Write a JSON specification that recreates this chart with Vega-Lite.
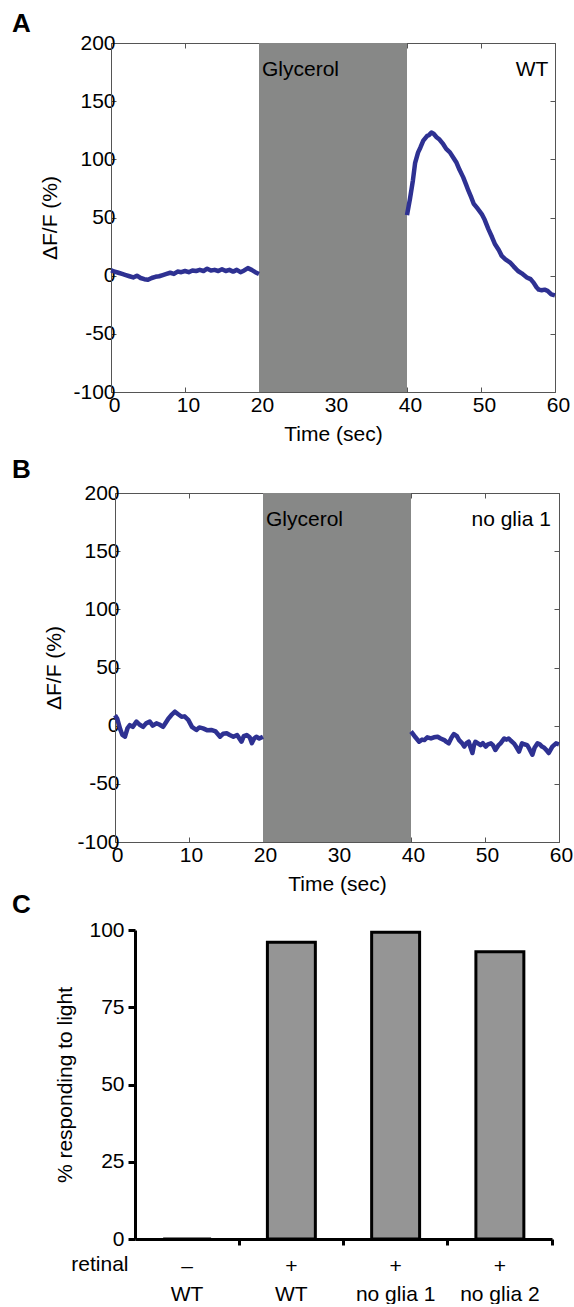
{
  "$schema": "https://vega.github.io/schema/vega-lite/v6.json",
  "padding": {"left": 12, "top": 11, "right": 0, "bottom": 0},
  "background": "white",
  "config": {
    "font": "Liberation Sans",
    "view": {"stroke": null},
    "axis": {"labelFont": "Liberation Sans", "titleFont": "Liberation Sans", "labelFontSize": 21, "titleFontSize": 21, "titleFontWeight": "normal", "labelColor": "black", "titleColor": "black", "grid": false, "domainColor": "#555555", "tickColor": "#555555", "labelFlush": false},
    "title": {"font": "Liberation Sans", "fontSize": 26, "fontWeight": "bold", "anchor": "start", "frame": "group", "baseline": "alphabetic", "color": "black"}
  },
  "datasets": {
    "traceA": [
      {"t": 0, "v": 4.5, "seg": 1}, {"t": 0.5, "v": 3.5, "seg": 1}, {"t": 1, "v": 2.5, "seg": 1}, {"t": 1.5, "v": 1.5, "seg": 1}, {"t": 2, "v": 0.5, "seg": 1}, {"t": 2.5, "v": -0.5, "seg": 1}, {"t": 3, "v": -1.5, "seg": 1}, {"t": 3.5, "v": 0, "seg": 1}, {"t": 4, "v": -2, "seg": 1}, {"t": 4.5, "v": -3, "seg": 1}, {"t": 5, "v": -3.5, "seg": 1}, {"t": 5.5, "v": -2, "seg": 1}, {"t": 6, "v": -1, "seg": 1}, {"t": 6.5, "v": -0.5, "seg": 1}, {"t": 7, "v": 0.5, "seg": 1}, {"t": 7.5, "v": 1.5, "seg": 1}, {"t": 8, "v": 2.5, "seg": 1}, {"t": 8.5, "v": 1.5, "seg": 1}, {"t": 9, "v": 3.5, "seg": 1}, {"t": 9.5, "v": 3, "seg": 1}, {"t": 10, "v": 4, "seg": 1}, {"t": 10.5, "v": 3, "seg": 1}, {"t": 11, "v": 4.5, "seg": 1}, {"t": 11.5, "v": 4, "seg": 1}, {"t": 12, "v": 5, "seg": 1}, {"t": 12.5, "v": 4, "seg": 1}, {"t": 13, "v": 6, "seg": 1}, {"t": 13.5, "v": 4.5, "seg": 1}, {"t": 14, "v": 5, "seg": 1}, {"t": 14.5, "v": 4, "seg": 1}, {"t": 15, "v": 5.5, "seg": 1}, {"t": 15.5, "v": 4, "seg": 1}, {"t": 16, "v": 5, "seg": 1}, {"t": 16.5, "v": 3.5, "seg": 1}, {"t": 17, "v": 5, "seg": 1}, {"t": 17.5, "v": 3, "seg": 1}, {"t": 18, "v": 4.5, "seg": 1}, {"t": 18.5, "v": 6.5, "seg": 1}, {"t": 19, "v": 5, "seg": 1}, {"t": 19.5, "v": 3, "seg": 1}, {"t": 20, "v": 1.5, "seg": 1},
      {"t": 40.0, "v": 52, "seg": 2}, {"t": 40.4, "v": 66, "seg": 2}, {"t": 40.8, "v": 82, "seg": 2}, {"t": 41.1, "v": 97, "seg": 2}, {"t": 41.5, "v": 106, "seg": 2}, {"t": 41.8, "v": 110, "seg": 2}, {"t": 42.2, "v": 116, "seg": 2}, {"t": 42.7, "v": 120, "seg": 2}, {"t": 43.0, "v": 121, "seg": 2}, {"t": 43.3, "v": 123, "seg": 2}, {"t": 43.6, "v": 122, "seg": 2}, {"t": 44.0, "v": 119, "seg": 2}, {"t": 44.4, "v": 117, "seg": 2}, {"t": 44.9, "v": 113, "seg": 2}, {"t": 45.3, "v": 109, "seg": 2}, {"t": 45.8, "v": 106, "seg": 2}, {"t": 46.2, "v": 102, "seg": 2}, {"t": 46.7, "v": 97, "seg": 2}, {"t": 47.1, "v": 91, "seg": 2}, {"t": 47.6, "v": 84.5, "seg": 2}, {"t": 48.0, "v": 78, "seg": 2}, {"t": 48.3, "v": 73, "seg": 2}, {"t": 48.7, "v": 67, "seg": 2}, {"t": 49.0, "v": 62, "seg": 2}, {"t": 49.5, "v": 58, "seg": 2}, {"t": 50.1, "v": 53, "seg": 2}, {"t": 50.5, "v": 48, "seg": 2}, {"t": 51.0, "v": 40, "seg": 2}, {"t": 51.5, "v": 33, "seg": 2}, {"t": 51.9, "v": 27, "seg": 2}, {"t": 52.4, "v": 22, "seg": 2}, {"t": 52.8, "v": 17, "seg": 2}, {"t": 53.3, "v": 14, "seg": 2}, {"t": 53.9, "v": 11.5, "seg": 2}, {"t": 54.4, "v": 8, "seg": 2}, {"t": 55.0, "v": 4, "seg": 2}, {"t": 55.5, "v": 2, "seg": 2}, {"t": 56.2, "v": -1.5, "seg": 2}, {"t": 56.7, "v": -3, "seg": 2}, {"t": 57.1, "v": -6, "seg": 2}, {"t": 57.5, "v": -10, "seg": 2}, {"t": 57.8, "v": -12, "seg": 2}, {"t": 58.2, "v": -12.5, "seg": 2}, {"t": 58.6, "v": -12, "seg": 2}, {"t": 59.0, "v": -13, "seg": 2}, {"t": 59.5, "v": -16, "seg": 2}, {"t": 60, "v": -17, "seg": 2}
    ],
    "traceB": [
      {"t": 0, "v": 9, "seg": 1}, {"t": 0.3, "v": 6, "seg": 1}, {"t": 0.7, "v": -3, "seg": 1}, {"t": 1.0, "v": -8, "seg": 1}, {"t": 1.35, "v": -9.5, "seg": 1}, {"t": 1.7, "v": -2, "seg": 1}, {"t": 2.0, "v": 0.5, "seg": 1}, {"t": 2.4, "v": -1, "seg": 1}, {"t": 2.9, "v": 3.5, "seg": 1}, {"t": 3.3, "v": 1, "seg": 1}, {"t": 3.8, "v": -1, "seg": 1}, {"t": 4.2, "v": 2, "seg": 1}, {"t": 4.7, "v": 3.5, "seg": 1}, {"t": 5.1, "v": 0, "seg": 1}, {"t": 5.6, "v": 2, "seg": 1}, {"t": 6.0, "v": 1, "seg": 1}, {"t": 6.5, "v": -1, "seg": 1}, {"t": 6.9, "v": 3, "seg": 1}, {"t": 7.2, "v": 6, "seg": 1}, {"t": 7.6, "v": 9, "seg": 1}, {"t": 8.1, "v": 12, "seg": 1}, {"t": 8.5, "v": 10, "seg": 1}, {"t": 9.0, "v": 7.7, "seg": 1}, {"t": 9.4, "v": 8, "seg": 1}, {"t": 9.9, "v": 5, "seg": 1}, {"t": 10.4, "v": -1, "seg": 1}, {"t": 11.0, "v": -3.7, "seg": 1}, {"t": 11.4, "v": -1.5, "seg": 1}, {"t": 11.9, "v": -2.3, "seg": 1}, {"t": 12.5, "v": -4, "seg": 1}, {"t": 13.0, "v": -3.7, "seg": 1}, {"t": 13.6, "v": -5, "seg": 1}, {"t": 14.2, "v": -9.5, "seg": 1}, {"t": 14.6, "v": -7, "seg": 1}, {"t": 15.1, "v": -6.6, "seg": 1}, {"t": 15.5, "v": -8, "seg": 1}, {"t": 16.0, "v": -9.5, "seg": 1}, {"t": 16.5, "v": -8, "seg": 1}, {"t": 17.1, "v": -13.8, "seg": 1}, {"t": 17.4, "v": -9, "seg": 1}, {"t": 17.8, "v": -8, "seg": 1}, {"t": 18.2, "v": -10, "seg": 1}, {"t": 18.5, "v": -15, "seg": 1}, {"t": 18.8, "v": -11, "seg": 1}, {"t": 19.1, "v": -9.5, "seg": 1}, {"t": 19.5, "v": -11, "seg": 1}, {"t": 20, "v": -9.5, "seg": 1},
      {"t": 40.0, "v": -5, "seg": 2}, {"t": 40.2, "v": -6.6, "seg": 2}, {"t": 40.6, "v": -10, "seg": 2}, {"t": 41.1, "v": -13.8, "seg": 2}, {"t": 41.5, "v": -12, "seg": 2}, {"t": 41.8, "v": -12.4, "seg": 2}, {"t": 42.2, "v": -10, "seg": 2}, {"t": 42.7, "v": -11, "seg": 2}, {"t": 43.1, "v": -10, "seg": 2}, {"t": 43.6, "v": -9.5, "seg": 2}, {"t": 44.0, "v": -11, "seg": 2}, {"t": 44.5, "v": -12.4, "seg": 2}, {"t": 44.8, "v": -14, "seg": 2}, {"t": 45.1, "v": -15.2, "seg": 2}, {"t": 45.5, "v": -10, "seg": 2}, {"t": 45.8, "v": -7.2, "seg": 2}, {"t": 46.2, "v": -9, "seg": 2}, {"t": 46.5, "v": -12.4, "seg": 2}, {"t": 46.9, "v": -15, "seg": 2}, {"t": 47.2, "v": -18, "seg": 2}, {"t": 47.5, "v": -15, "seg": 2}, {"t": 47.8, "v": -13.8, "seg": 2}, {"t": 48.0, "v": -18, "seg": 2}, {"t": 48.3, "v": -23.5, "seg": 2}, {"t": 48.5, "v": -17, "seg": 2}, {"t": 48.7, "v": -13.8, "seg": 2}, {"t": 49.0, "v": -15, "seg": 2}, {"t": 49.4, "v": -16.7, "seg": 2}, {"t": 49.7, "v": -15, "seg": 2}, {"t": 50.1, "v": -18, "seg": 2}, {"t": 50.4, "v": -16, "seg": 2}, {"t": 50.8, "v": -15.2, "seg": 2}, {"t": 51.1, "v": -17, "seg": 2}, {"t": 51.4, "v": -20.9, "seg": 2}, {"t": 51.8, "v": -17, "seg": 2}, {"t": 52.1, "v": -15.2, "seg": 2}, {"t": 52.6, "v": -11, "seg": 2}, {"t": 52.9, "v": -12, "seg": 2}, {"t": 53.2, "v": -11, "seg": 2}, {"t": 53.5, "v": -13, "seg": 2}, {"t": 53.9, "v": -15.2, "seg": 2}, {"t": 54.2, "v": -18, "seg": 2}, {"t": 54.6, "v": -22.3, "seg": 2}, {"t": 55.0, "v": -15.2, "seg": 2}, {"t": 55.3, "v": -16, "seg": 2}, {"t": 55.7, "v": -16.7, "seg": 2}, {"t": 56.0, "v": -20, "seg": 2}, {"t": 56.4, "v": -25, "seg": 2}, {"t": 56.7, "v": -19, "seg": 2}, {"t": 57.1, "v": -15.2, "seg": 2}, {"t": 57.4, "v": -16, "seg": 2}, {"t": 57.7, "v": -18, "seg": 2}, {"t": 58.0, "v": -19, "seg": 2}, {"t": 58.3, "v": -21, "seg": 2}, {"t": 58.6, "v": -23.5, "seg": 2}, {"t": 59.1, "v": -18, "seg": 2}, {"t": 59.6, "v": -15.2, "seg": 2}, {"t": 60, "v": -16, "seg": 2}
    ],
    "glycerol": [{"start": 20, "end": 40, "label": "Glycerol"}],
    "bars": [
      {"group": "WT (no retinal)", "pct": 0},
      {"group": "WT", "pct": 96},
      {"group": "no glia 1", "pct": 99.3},
      {"group": "no glia 2", "pct": 93}
    ]
  },
  "columns": 1,
  "spacing": 13,
  "concat": [
    {
      "title": {"text": "A", "dx": -99, "offset": -5},
      "width": 444,
      "height": 349,
      "layer": [
        {
          "data": {"name": "glycerol"},
          "mark": {"type": "rect", "color": "#878887"},
          "encoding": {
            "x": {"field": "start", "type": "quantitative", "scale": {"domain": [0, 60], "nice": false, "zero": false}, "axis": {"orient": "bottom", "title": "Time (sec)", "values": [0, 10, 20, 30, 40, 50, 60], "tickSize": -5, "labelPadding": 7, "labelOffset": 3, "titlePadding": 8}},
            "x2": {"field": "end"},
            "y": {"datum": -100, "type": "quantitative", "scale": {"domain": [-100, 200], "nice": false}, "axis": {"orient": "right", "labels": false, "title": null, "values": [-100, -50, 0, 50, 100, 150, 200], "tickSize": -5}},
            "y2": {"datum": 200}
          }
        },
        {
          "data": {"name": "traceA"},
          "mark": {"type": "line", "color": "#2e3192", "strokeWidth": 4.5, "strokeJoin": "round"},
          "encoding": {
            "x": {"field": "t", "type": "quantitative", "scale": {"domain": [0, 60], "nice": false, "zero": false}, "axis": {"orient": "top", "labels": false, "title": null, "values": [0, 10, 20, 30, 40, 50, 60], "tickSize": -5}},
            "y": {"field": "v", "type": "quantitative", "scale": {"domain": [-100, 200], "nice": false}, "axis": {"orient": "left", "title": "ΔF/F (%)", "values": [-100, -50, 0, 50, 100, 150, 200], "labelExpr": "'' + datum.value", "tickSize": -5, "labelPadding": 1, "titlePadding": 12}},
            "detail": {"field": "seg"}
          }
        },
        {
          "data": {"name": "glycerol"},
          "mark": {"type": "text", "align": "left", "baseline": "middle", "fontSize": 21, "font": "Liberation Sans", "dx": 3},
          "encoding": {
            "x": {"field": "start", "type": "quantitative", "axis": null},
            "y": {"datum": 177, "type": "quantitative", "axis": null},
            "text": {"field": "label"}
          }
        },
        {
          "data": {"values": [{"name": "WT"}]},
          "mark": {"type": "text", "align": "right", "baseline": "middle", "fontSize": 21, "font": "Liberation Sans"},
          "encoding": {
            "x": {"datum": 59.1, "type": "quantitative", "axis": null},
            "y": {"datum": 177, "type": "quantitative", "axis": null},
            "text": {"field": "name"}
          }
        }
      ],
      "resolve": {"axis": {"x": "independent", "y": "independent"}}
    },
    {
      "columns": 1,
      "spacing": -2,
      "concat": [
        {
          "title": {"text": "B", "dx": -99, "offset": -1},
          "width": 448,
          "height": 349,
          "layer": [
            {
              "data": {"name": "glycerol"},
              "mark": {"type": "rect", "color": "#878887"},
              "encoding": {
                "x": {"field": "start", "type": "quantitative", "scale": {"domain": [0, 60], "nice": false, "zero": false, "range": [4, 448]}, "axis": {"orient": "bottom", "title": "Time (sec)", "values": [0, 10, 20, 30, 40, 50, 60], "tickSize": -5, "labelPadding": 7, "labelOffset": 2, "titlePadding": 8}},
                "x2": {"field": "end"},
                "y": {"datum": -100, "type": "quantitative", "scale": {"domain": [-100, 200], "nice": false}, "axis": {"orient": "right", "labels": false, "title": null, "values": [-100, -50, 0, 50, 100, 150, 200], "tickSize": -5}},
                "y2": {"datum": 200}
              }
            },
            {
              "data": {"name": "traceB"},
              "mark": {"type": "line", "color": "#2e3192", "strokeWidth": 4.5, "strokeJoin": "round"},
              "encoding": {
                "x": {"field": "t", "type": "quantitative", "scale": {"domain": [0, 60], "nice": false, "zero": false, "range": [4, 448]}, "axis": {"orient": "top", "labels": false, "title": null, "values": [0, 10, 20, 30, 40, 50, 60], "tickSize": -5}},
                "y": {"field": "v", "type": "quantitative", "scale": {"domain": [-100, 200], "nice": false}, "axis": {"orient": "left", "offset": -4, "title": "ΔF/F (%)", "values": [-100, -50, 0, 50, 100, 150, 200], "labelExpr": "'' + datum.value", "tickSize": -5, "labelPadding": 1, "titlePadding": 12}},
                "detail": {"field": "seg"}
              }
            },
            {
              "data": {"name": "glycerol"},
              "mark": {"type": "text", "align": "left", "baseline": "middle", "fontSize": 21, "font": "Liberation Sans", "dx": 3},
              "encoding": {
                "x": {"field": "start", "type": "quantitative", "axis": null},
                "y": {"datum": 177, "type": "quantitative", "axis": null},
                "text": {"field": "label"}
              }
            },
            {
              "data": {"values": [{"name": "no glia 1"}]},
              "mark": {"type": "text", "align": "right", "baseline": "middle", "fontSize": 21, "font": "Liberation Sans"},
              "encoding": {
                "x": {"datum": 58.9, "type": "quantitative", "axis": null},
                "y": {"datum": 177, "type": "quantitative", "axis": null},
                "text": {"field": "name"}
              }
            }
          ],
          "resolve": {"axis": {"x": "independent", "y": "independent"}}
        },
        {
          "title": {"text": "C", "dx": -99, "offset": 1},
          "width": 441,
          "height": 309,
          "data": {"name": "bars"},
          "mark": {"type": "bar", "fill": "#959595", "stroke": "black", "strokeWidth": 3, "width": {"band": 0.46}},
          "encoding": {
            "x": {"field": "group", "type": "nominal", "sort": null, "scale": {"paddingInner": 0, "paddingOuter": 0, "range": [24, 441]},
              "axis": {"title": "retinal", "titleAnchor": "start", "titleAlign": "right", "titleBaseline": "middle", "titleX": 17, "titleY": 25, "labelAngle": 0, "bandPosition": 1, "labelOffset": 0, "labelOverlap": false, "labelExpr": "datum.value == 'WT (no retinal)' ? ['–', 'WT'] : ['+', datum.value]", "labelLineHeight": 28, "labelBaseline": "top", "tickSize": 6, "tickWidth": 3, "tickColor": "black", "domainColor": "black", "domainWidth": 3, "labelPadding": 10}},
            "y": {"field": "pct", "type": "quantitative", "scale": {"domain": [0, 100], "nice": false}, "axis": {"offset": -24, "title": "% responding to light", "values": [0, 25, 50, 75, 100], "tickSize": 7, "tickWidth": 3, "tickColor": "black", "domainColor": "black", "domainWidth": 3, "labelPadding": 4, "titlePadding": 13}}
          }
        }
      ]
    }
  ]
}
